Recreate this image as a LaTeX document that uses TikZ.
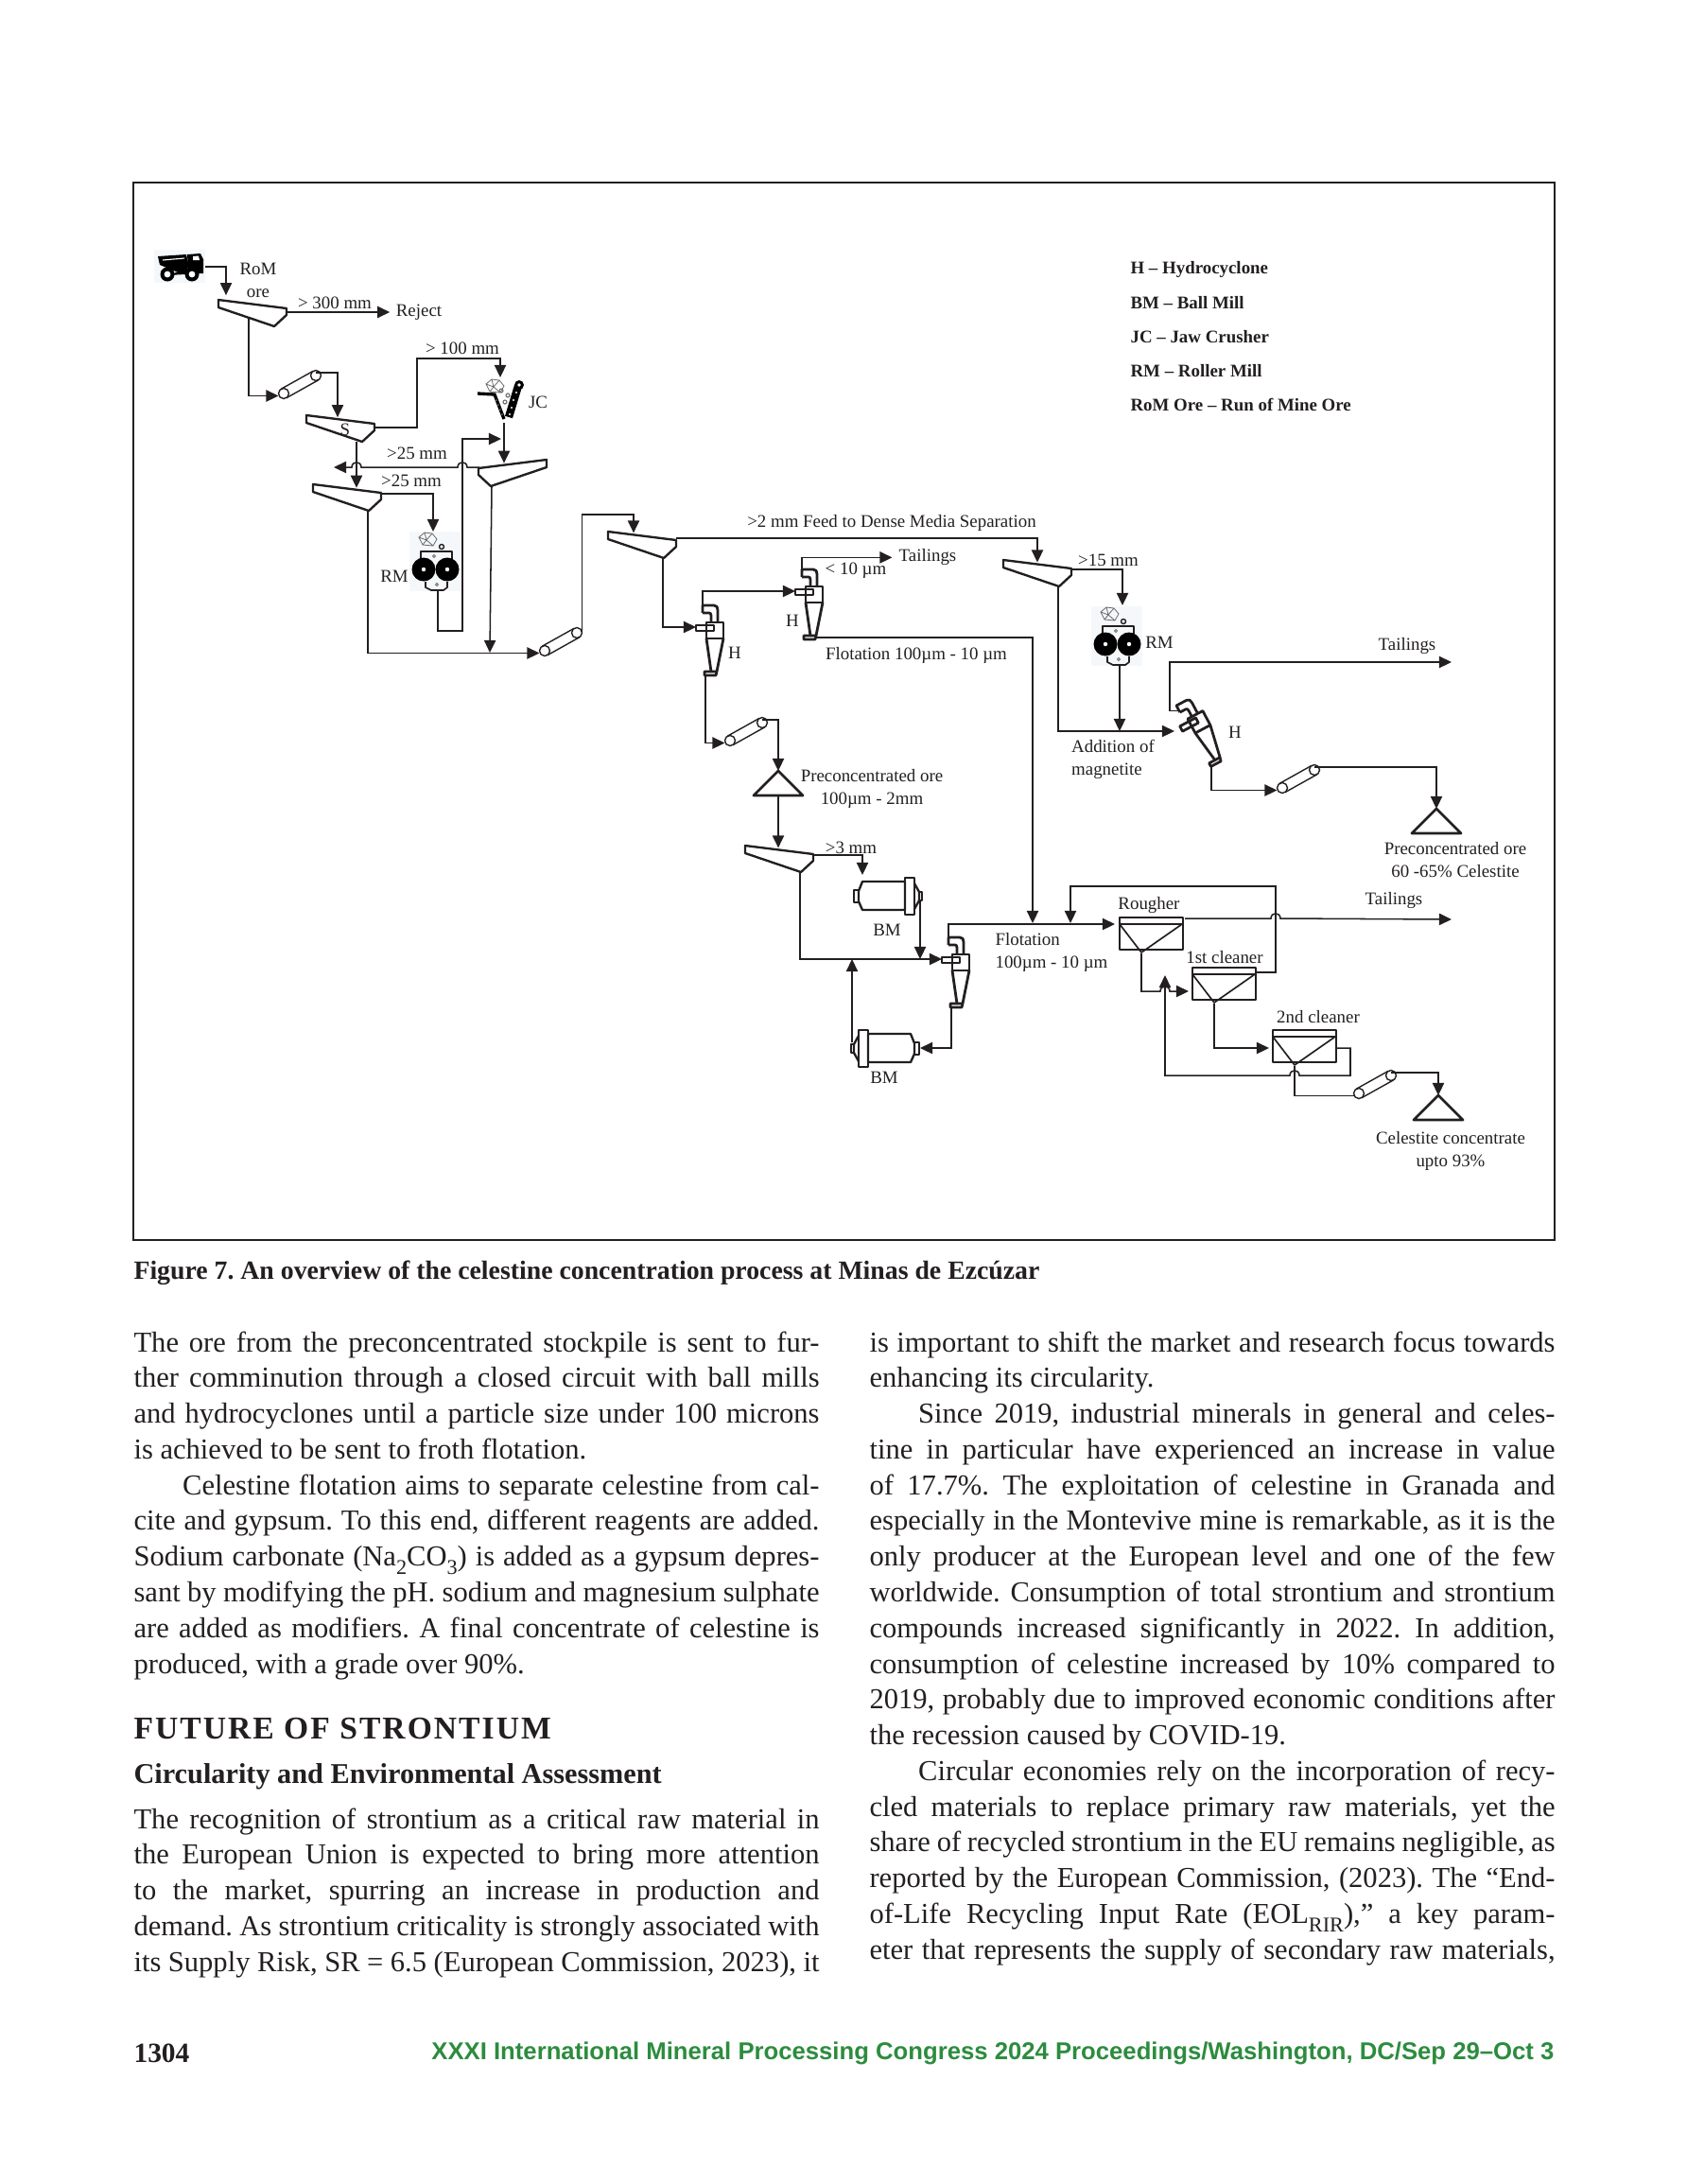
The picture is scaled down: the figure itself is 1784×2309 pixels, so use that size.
\documentclass[tikz,border=0pt]{standalone}
\usepackage{fontspec}
\setmainfont{Liberation Serif}
\newfontfamily\footfont{Liberation Sans}
\newfontfamily\headfont[LetterSpace=6]{Liberation Serif}
\usetikzlibrary{arrows.meta, calc}
\definecolor{cInk}{HTML}{231F20}
\definecolor{cTint}{HTML}{F5F8FB}
\definecolor{cRock}{HTML}{6E6E6E}
\definecolor{cFoot}{HTML}{2C8C3E}
\frenchspacing
\newcommand{\fl}[1]{\makebox[261pt][s]{#1}}
\newcommand{\ind}{\hspace*{18.6pt}}
\newcommand{\subs}[1]{\raisebox{-0.28em}{\footnotesize #1}}
\newcommand{\hopleft}[1]{-- ($(#1)+(5,0)$) .. controls +(0,-7) and +(0,-7) .. ($(#1)+(-5,0)$)}
\newcommand{\hopright}[1]{-- ($(#1)+(-5,0)$) .. controls +(0,-7) and +(0,-7) .. ($(#1)+(5,0)$)}

\begin{document}
\begin{tikzpicture}[x=0.36pt, y=-0.36pt,
    >={Triangle[length=4.7pt, width=4.4pt]},
    flow/.style={->, line width=0.55pt, color=cInk},
    plain/.style={line width=0.55pt, color=cInk},
    part/.style={line width=0.85pt, color=cInk, line join=round},
    lab/.style={font=\fontsize{6.8}{8.64}\selectfont, text=cInk, inner sep=0pt, align=center, yshift=-0.5pt},
    legend/.style={font=\fontsize{6.8}{8.64}\selectfont\bfseries, text=cInk, inner sep=0pt, anchor=west},
    column/.style={font=\fontsize{11}{13.6}\selectfont, text=cInk, inner sep=0pt, anchor=north west, align=left},
    pics/screen/.style={code={
        \draw[part] (0,0) -- (72,9) -- (72,16) -- (59,28) -- (0,8) -- cycle;
        \coordinate (-feed) at (#1,{#1/8-2});
        \coordinate (-top) at (72,7);
        \coordinate (-over) at (72,10);
        \coordinate (-mid) at (72,13);
        \coordinate (-end) at (71,8);
        \coordinate (-belly) at (32,19);
        \coordinate (-under) at (58,28);
    }},
    pics/conveyor/.style={code={
        \draw[line width=0.5pt, cInk] (2.7,4.8) -- +(34,-19) (-2.7,-4.8) -- +(34,-19);
        \draw[line width=0.5pt, cInk, fill=white] (0,0) circle [radius=5.5pt*0.36];
        \draw[line width=0.5pt, cInk, fill=white] (34,-19) circle [radius=5.5pt*0.36];
        \coordinate (-in) at (-5.5,2.5);
        \coordinate (-out) at (34,-22);
        \coordinate (-east) at (39.5,-19);
    }},
    pics/cyclone/.style={code={
        \draw[part, line width=1pt] (-4,-10) -- (-4,-18) -- (8,-18) .. controls (11,-18) and (12,-16) .. (12,-13) -- (12,0);
        \draw[part, line width=1pt] (-4,-10) -- (3,-10) .. controls (4.5,-10) and (5,-9) .. (5,-7) -- (5,0);
        \draw[part, line width=1pt] (0,0) rectangle (18,17);
        \draw[part, line width=1pt] (-11,3) rectangle (8,9);
        \draw[part, line width=1pt] (0,17) -- (5,52) -- (11,52) -- (18,17);
        \draw[part, line width=1pt] (5,52) -- (-2,52) -- (-2,56) -- (10,56) -- (11,52);
        \coordinate (-top) at (-4,-18);
        \coordinate (-side) at (-4,-12);
        \coordinate (-in) at (-11,5);
        \coordinate (-bot) at (-1,55);
        \coordinate (-botr) at (12,54);
    }},
    pics/mill/.style={code={
        \draw[part] (10,4) -- (55,4) -- (55,34) -- (10,34) -- (6,25) -- (6,14) -- cycle;
        \draw[part] (1,13) rectangle (6,26);
        \draw[part] (55,0) rectangle (65,39);
        \draw[part] (65,6) -- (70,15) -- (70,24) -- (65,33);
        \draw[part] (70,15) rectangle (73,24);
        \coordinate (-in) at (10,-3);
        \coordinate (-out) at (71,24);
        \coordinate (-tip) at (0,19);
        \coordinate (-left) at (72,13);
    }},
    pics/cell/.style={code={
        \draw[part, line width=0.7pt] (0,0) rectangle (67,34);
        \draw[part, line width=0.7pt] (0,7) -- (67,7);
        \draw[part, line width=0.6pt] (0,7) -- (23,37) -- (66,7);
        \coordinate (-in) at (-5,7);
        \coordinate (-tail) at (69,1);
        \coordinate (-bot) at (23,38);
    }},
    pics/stock/.style={code={
        \draw[part, line width=1pt] (0,0) -- (26,26) -- (-26,26) -- cycle;
        \coordinate (-top) at (0,0);
        \coordinate (-bot) at (0,26);
    }},
    pics/rocks/.style={code={
        \draw[cRock, line width=0.3pt] (0,5) -- (6,0) -- (14,1) -- (19,7) -- (15,14) -- (4,13) -- cycle
            (6,0) -- (8,8) -- (4,13) (8,8) -- (15,14) (14,1) -- (8,8) (0,5) -- (8,8);
    }},
    pics/rollmill/.style={code={
        \fill[cTint] (0,0) rectangle (54,63);
        \pic at (10,1) {rocks};
        \draw[cInk, line width=0.5pt] (34,16) circle [radius=2.5pt*0.36];
        \draw[part, line width=0.6pt] (12,30) -- (12,21) -- (45,21) -- (45,30);
        \draw[part, line width=0.6pt] (17,53) -- (17,59) -- (23,62) -- (36,62) -- (40,59) -- (40,53);
        \draw[cRock, line width=0.3pt] (26,26) circle [radius=1.5pt*0.36] (29,56) circle [radius=1.5pt*0.36];
        \foreach \xr in {15,40} {
            \fill[black] (\xr,40) circle [radius=12.5pt*0.36];
            \fill[white] (\xr,40) circle [radius=2.2pt*0.36];
        }
        \coordinate (-in) at (25,0);
        \coordinate (-out) at (30,62);
    }},
    pics/jaw/.style={code={
        \pic at (9,1) {rocks};
        \draw[black, line width=1.2pt] (0,16) -- (18,17) -- (28,43);
        \draw[black, line width=3pt] (43,8) -- (33,41);
        \fill[black] (44,7) circle [radius=5pt*0.36];
        \fill[white] (44,7) circle [radius=1.8pt*0.36];
        \foreach \pa/\pb in {41/15,38/23,36/31,34/38} {\fill[white] (\pa,\pb) circle [radius=1.2pt*0.36];}
        \foreach \pa/\pb in {20/23,22/28,24/33,26/38} {\fill[cRock] (\pa,\pb) circle [radius=1pt*0.36];}
        \foreach \pa/\pb in {25/13,32/18,29/25} {\draw[cRock, line width=0.4pt] (\pa,\pb) circle [radius=2pt*0.36];}
        \coordinate (-in) at (24,-1);
        \coordinate (-out) at (28,47);
        \coordinate (-side) at (25,64);
    }},
    pics/truck/.style={code={
        \fill[cTint] (0,0) rectangle (54,35);
        \fill[black] (4,7) -- (34,5) -- (37,18) -- (30,26) -- (6,16) -- cycle;
        \draw[white, line width=0.4pt] (9,11) -- (32,9);
        \fill[black] (35,5) -- (49,4) -- (52,10) -- (52,25) -- (14,27) -- (36,20) -- cycle;
        \fill[white] (41,7) -- (47,6.5) -- (48,11) -- (41,11) -- cycle;
        \foreach \xr in {14,40} {
            \fill[black] (\xr,26) circle [radius=7.5pt*0.36];
            \fill[white] (\xr,26) circle [radius=3.4pt*0.36];
        }
        \coordinate (-out) at (54,18);
    }},
]
\useasboundingbox (0,0) rectangle (1784,2309);

% Frame
\draw[line width=0.8pt, cInk] (141,193) rectangle (1644,1311);

% Legend
\node[legend] (lega) at (1195,285) {H -- Hydrocyclone};
\node[legend] (legb) at (1195,320) {BM -- Ball Mill};
\node[legend] (legc) at (1195,356) {JC -- Jaw Crusher};
\node[legend] (legd) at (1195,392) {RM -- Roller Mill};
\node[legend] (lege) at (1195,428) {RoM Ore -- Run of Mine Ore};

% Equipment - primary crushing
\pic (truck) at (163,264) {truck};
\pic (s1) at (231,317) {screen=8};
\pic (c1) at (300,416) {conveyor};
\pic (s2) at (324,439) {screen=33};
\pic (jc) at (505,400) {jaw};
\pic[xscale=-1] (s4) at (578,486) {screen=45};
\pic (s3) at (331,512) {screen=46};
\pic (rm1) at (433,562) {rollmill};
\pic (c2) at (576,688) {conveyor};

% Equipment - hydrocyclones and grinding
\pic (s5) at (643,562) {screen=27};
\pic (h1) at (747,658) {cyclone};
\pic (h2) at (852,620) {cyclone};
\pic (c3) at (772,783) {conveyor};
\pic (t1) at (823,815) {stock};
\pic (s7) at (788,894) {screen=35};
\pic (bm1) at (902,928) {mill};
\pic (h3) at (1007,1009) {cyclone};
\pic[xscale=-1] (bm2) at (973,1089) {mill};

% Equipment - dense media
\pic (s6) at (1061,592) {screen=36};
\pic (rm3) at (1154,641) {rollmill};
\pic[rotate=28] (h4) at (1256,760) {cyclone};
\pic (c4) at (1356,833) {conveyor};
\pic (t2) at (1519,855) {stock};

% Equipment - flotation
\pic (rough) at (1184,970) {cell};
\pic (cl1) at (1261,1023) {cell};
\pic (cl2) at (1346,1089) {cell};
\pic (c5) at (1437,1156) {conveyor};
\pic (t3) at (1521,1158) {stock};

% Free ends and turning points
\coordinate (rmup) at (489,667);
\coordinate (backend) at (353,494);
\coordinate (railend) at (518,690);
\coordinate (rm3feed) at (1187,640);
\coordinate (h4feed) at (1242,773);
\coordinate (tail2) at (1535,700);
\coordinate (fl1) at (1092,976);
\coordinate (fl2) at (1132,976);
\coordinate (fbtop) at (1349,937);
\coordinate (tail3) at (1535,972);
\coordinate (cl1in) at (1257,1048);
\coordinate (cl1tail) at (1328,1028);
\coordinate (cl2in) at (1342,1108);
\coordinate (cl2tail) at (1414,1108);
\coordinate (fbk) at (1232,1137);
\coordinate (fbend) at (1232,1031);

% Labels
\node[lab] (lrom) at (273,295) {RoM\\ore};
\node[lab] (l300) at (354,319) {> 300 mm};
\node[lab] (lrej) at (443,329) {Reject};
\node[lab] (l100) at (489,367) {> 100 mm};
\node[lab] (ls) at (365,453) {S};
\node[lab] (ljc) at (569,424) {JC};
\node[lab] (l25a) at (441,478) {>25 mm};
\node[lab] (l25b) at (435,507) {>25 mm};
\node[lab] (lrma) at (417,608) {RM};
\node[lab] (lfeed) at (943,552) {>2 mm Feed to Dense Media Separation};
\node[lab] (ltail1) at (981,588) {Tailings};
\node[lab] (l10) at (905,602) {< 10 µm};
\node[lab] (lh2) at (838,655) {H};
\node[lab] (lh1) at (777,689) {H};
\node[lab] (lflot1) at (969,692) {Flotation 100µm - 10 µm};
\node[lab] (lpre1) at (922,833) {Preconcentrated ore\\100µm - 2mm};
\node[lab] (l3) at (900,895) {>3 mm};
\node[lab] (lbm1) at (938,982) {BM};
\node[lab] (lbm2) at (935,1138) {BM};
\node[lab, align=left] (lflot2) at (1112,1006) {Flotation\\100µm - 10 µm};
\node[lab] (l15) at (1172,591) {>15 mm};
\node[lab] (lrmb) at (1226,678) {RM};
\node[lab] (ltail2) at (1488,682) {Tailings};
\node[lab] (lh4) at (1306,773) {H};
\node[lab, align=left] (lmag) at (1177,801) {Addition of\\magnetite};
\node[lab] (lpre2) at (1539,908) {Preconcentrated ore\\60 -65\% Celestite};
\node[lab] (lrough) at (1215,956) {Rougher};
\node[lab] (ltail3) at (1474,951) {Tailings};
\node[lab] (lcl1) at (1295,1011) {1st cleaner};
\node[lab] (lcl2) at (1394,1074) {2nd cleaner};
\node[lab] (lcel) at (1534,1216) {Celestite concentrate\\upto 93\%};

% Arrows - primary crushing
\draw[flow, shorten >=1.4pt] (truck-out) -| (s1-feed);
\draw[flow, shorten >=2.2pt] (s1-mid) -- (s1-mid -| lrej.west);
\draw[flow] (s1-belly) |- (c1-in);
\draw[flow] (c1-out) -| (s2-feed);
\draw[flow] (s2-mid) -- ++(45,0) -- ++(0,-73) -| (jc-in);
\draw[flow] (jc-out) -- (s4-feed);
\draw[flow] (rm1-out) |- (rmup) |- (jc-side);
\draw[flow] (s4-end) \hopleft{rmup |- s4-end} \hopleft{s3-feed |- s4-end} -- (backend);
\draw[flow] (s2-under -| s3-feed) -- (s3-feed);
\draw[flow] (s3-over) -| (rm1-in);
\draw[flow] (s3-under) |- (c2-in);
\draw[flow] (s4-under) -- (railend);
\draw[flow] (c2-east) -- ++(0,-125) -| (s5-feed);

% Arrows - hydrocyclones and grinding
\draw[flow] (s5-top) -| (s6-feed);
\draw[flow] (s5-under) |- (h1-in);
\draw[flow] (h1-top) |- (h2-in);
\draw[flow, shorten >=2.4pt] (h2-top) |- (ltail1.west);
\draw[flow] (h2-botr) -| (fl1);
\draw[flow] (h1-bot) |- (c3-in);
\draw[flow] (c3-out) -| (t1-top);
\draw[flow] (t1-bot) -- (s7-feed);
\draw[flow] (s7-over) -| (bm1-in);
\draw[flow] (s7-under) |- (h3-in);
\draw[flow] (bm1-out) -- (bm1-out |- h3-in);
\draw[flow] (bm2-left) -- (bm2-left |- h3-in);
\draw[flow] (h3-bot) |- (bm2-tip);

% Arrows - dense media
\draw[flow] (s6-over) -| (rm3feed);
\draw[flow] (s6-under) |- (h4feed);
\draw[flow] (rm3-out) -- (rm3-out |- h4feed);
\draw[flow] (h4-side) -- ++(-10,0) |- (tail2);
\draw[flow] (h4-bot) |- (c4-in);
\draw[flow] (c4-out) -| (t2-top);

% Arrows - flotation
\draw[flow] (h3-top) |- (rough-in);
\draw[flow] (cl1tail) -| (fbtop) -| (fl2);
\draw[flow] (rough-tail) \hopright{fbtop |- rough-tail} -- (tail3);
\draw[flow] (rough-bot) -- (rough-bot |- cl1in) \hopright{fbk |- cl1in} -- (cl1in);
\draw[flow] (cl1-bot) |- (cl2in);
\draw[flow] (cl2tail) -- ++(14,0) -- ++(0,29) \hopleft{cl2-bot |- fbk} -- (fbk) -- (fbend);
\draw[plain] (cl2-bot) |- (c5-in);
\draw[flow] (c5-out) -| (t3-top);

% Caption and page text
\node[inner sep=0pt, anchor=west, text=cInk, font=\fontsize{10}{12}\selectfont\bfseries] (caption) at (141,1346)
    {Figure 7. An overview of the celestine concentration process at Minas de Ezcúzar};

\node[column] (colA) at (141,1407) {%
\fl{The ore from the preconcentrated stockpile is sent to fur-}\\
\fl{ther comminution through a closed circuit with ball mills}\\
\fl{and hydrocyclones until a particle size under 100 microns}\\
is achieved to be sent to froth flotation.\\
\fl{\ind Celestine flotation aims to separate celestine from cal-}\\
\fl{cite and gypsum. To this end, different reagents are added.}\\
\fl{Sodium carbonate (Na\subs{2}CO\subs{3}) is added as a gypsum depres-}\\
\fl{sant by modifying the pH. sodium and magnesium sulphate}\\
\fl{are added as modifiers. A final concentrate of celestine is}\\
produced, with a grade over 90\%.};

\node[inner sep=0pt, anchor=west, text=cInk, font=\fontsize{12.1}{14}\selectfont\bfseries\headfont] (head) at (141,1828) {FUTURE OF STRONTIUM};
\node[inner sep=0pt, anchor=west, text=cInk, font=\fontsize{10.9}{13}\selectfont\bfseries] (subhead) at (141,1878) {Circularity and Environmental Assessment};

\node[column] (colB) at (141,1911) {%
\fl{The recognition of strontium as a critical raw material in}\\
\fl{the European Union is expected to bring more attention}\\
\fl{to the market, spurring an increase in production and}\\
\fl{demand. As strontium criticality is strongly associated with}\\
\fl{its Supply Risk, SR = 6.5 (European Commission, 2023), it}};

\node[column] (colC) at (919,1407) {%
\fl{is important to shift the market and research focus towards}\\
enhancing its circularity.\\
\fl{\ind Since 2019, industrial minerals in general and celes-}\\
\fl{tine in particular have experienced an increase in value}\\
\fl{of 17.7\%. The exploitation of celestine in Granada and}\\
\fl{especially in the Montevive mine is remarkable, as it is the}\\
\fl{only producer at the European level and one of the few}\\
\fl{worldwide. Consumption of total strontium and strontium}\\
\fl{compounds increased significantly in 2022. In addition,}\\
\fl{consumption of celestine increased by 10\% compared to}\\
\fl{2019, probably due to improved economic conditions after}\\
the recession caused by COVID-19.\\
\fl{\ind Circular economies rely on the incorporation of recy-}\\
\fl{cled materials to replace primary raw materials, yet the}\\
\fl{share of recycled strontium in the EU remains negligible, as}\\
\fl{reported by the European Commission, (2023). The “End-}\\
\fl{of-Life Recycling Input Rate (EOL\subs{RIR}),” a key param-}\\
\fl{eter that represents the supply of secondary raw materials,}};

% Footer
\node[inner sep=0pt, anchor=west, text=cInk, font=\fontsize{10.6}{12}\selectfont\bfseries] (pageno) at (141,2171) {1304};
\node[inner sep=0pt, anchor=east, text=cFoot, font=\fontsize{9.25}{11}\selectfont\footfont\bfseries] (footer) at (1644,2171)
    {XXXI International Mineral Processing Congress 2024 Proceedings/Washington, DC/Sep 29–Oct 3};

\end{tikzpicture}
\end{document}
